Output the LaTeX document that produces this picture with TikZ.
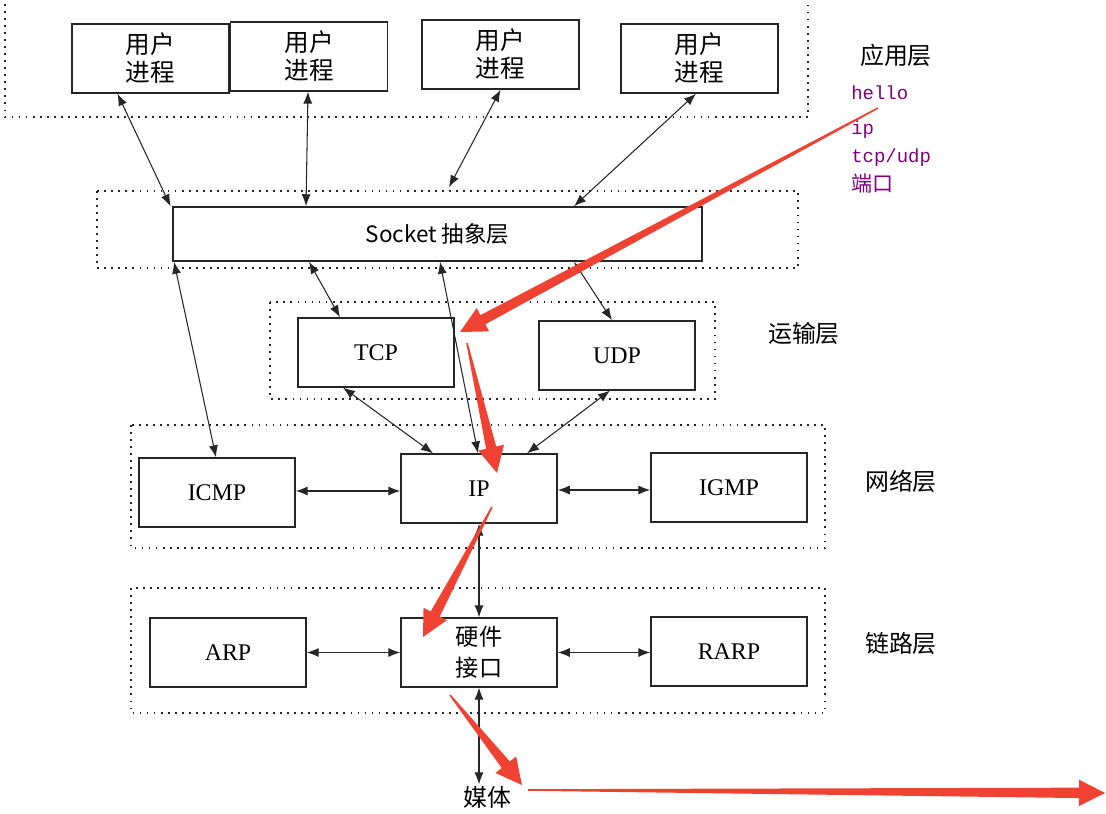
\documentclass[tikz,border=0pt]{standalone}
\usepackage{fontspec}
\setmainfont{Liberation Serif}
\newfontfamily\cjk{Noto Sans CJK SC}
\newfontfamily\notefont{Liberation Mono}
\usepackage{tikz}
\usetikzlibrary{arrows.meta}
\usetikzlibrary{calc}
\usetikzlibrary{positioning}
\definecolor{annred}{RGB}{240,66,50}
\definecolor{notepurple}{RGB}{128,0,128}
\tikzset{
    procbox/.style={
        rectangle,
        draw=black!85,
        line width=1.1pt,
        fill=white,
        minimum width=3.92cm,
        minimum height=1.72cm,
        inner sep=0pt,
        align=center,
        font=\cjk\fontsize{17.5}{20}\selectfont
    },
    protobox/.style={
        rectangle,
        draw=black!85,
        line width=1.1pt,
        fill=white,
        minimum width=3.9cm,
        minimum height=1.72cm,
        inner sep=0pt,
        font=\fontsize{17}{20}\selectfont
    },
    layer/.style={draw=black!85, line width=1.3pt, dash pattern=on 1.3pt off 3.7pt},
    layerlabel/.style={font=\cjk\fontsize{17}{20}\selectfont},
    note/.style={anchor=base west, inner sep=0pt, text=notepurple, font=\notefont\fontsize{13.5}{16}\selectfont},
    link/.style={
        {Latex[length=8.5pt,width=6.5pt]}-{Latex[length=8.5pt,width=6.5pt]},
        line width=0.75pt,
        draw=black!85
    },
    annot/.style={fill=annred}
}
\newcommand{\annarrow}[2]{%
    \coordinate (hb) at ($(#2)!0.65cm!(#1)$);
    \fill[annot] ($(#1)!0.02cm!90:(#2)$) -- ($(hb)!0.13cm!90:(#2)$) -- ($(hb)!0.33cm!90:(#2)$) -- (#2)
        -- ($(hb)!0.33cm!-90:(#2)$) -- ($(hb)!0.13cm!-90:(#2)$) -- ($(#1)!0.02cm!-90:(#2)$) -- cycle;
}

\begin{document}
\begin{tikzpicture}[x=0.025cm, y=-0.025cm]
    \useasboundingbox (0,0) rectangle (1106,814);

    % Layer frames
    \draw[layer] (5,-10) rectangle (808,117);
    \draw[layer] (97,191) rectangle (798,268);
    \draw[layer] (270,302) rectangle (715,399);
    \draw[layer] (131,425) rectangle (825,548);
    \draw[layer] (131,588) rectangle (825,713);

    % Application layer
    \node (proc1) [procbox] at (150.5,58.5) {用户\\进程};
    \node (proc2) [procbox] at (309,56.5) {用户\\进程};
    \node (proc3) [procbox] at (500.5,54.5) {用户\\进程};
    \node (proc4) [procbox] at (699.5,58.5) {用户\\进程};
    \node (applbl) [layerlabel] at (896,55) {应用层};

    % Notes
    \node (note_hello) [note] at (851,100) {hello};
    \node (note_ip) [note] at (851,135) {ip};
    \node (note_tcpudp) [note] at (851,163) {tcp/udp};
    \node (note_port) [note, font=\cjk\fontsize{15}{18}\selectfont] at (851,192) {端口};

    % Socket layer
    \node (socket) [rectangle, draw=black!85, line width=1.1pt, fill=white, minimum width=13.225cm, minimum height=1.35cm,
        font=\cjk\fontsize{16}{19}\selectfont] at (437.5,234) {Socket 抽象层};

    % Transport layer
    \node (tcp) [protobox] at (376,352.4) {TCP};
    \node (udp) [protobox] at (617,355.4) {UDP};
    \node (translbl) [layerlabel] at (804,333) {运输层};

    % Network layer
    \node (icmp) [protobox] at (217,492.5) {ICMP};
    \node (ip) [protobox] at (479,488.5) {IP};
    \node (igmp) [protobox] at (729,487.5) {IGMP};
    \node (netlbl) [layerlabel] at (901,481) {网络层};

    % Link layer
    \node (arp) [protobox] at (228,652.5) {ARP};
    \node (hw) [protobox, align=center, font=\cjk\fontsize{16.5}{22}\selectfont] at (479,652.5) {硬件\\接口};
    \node (rarp) [protobox] at (729,651.5) {RARP};
    \node (linklbl) [layerlabel] at (901,643) {链路层};

    % Medium
    \node (media) [font=\cjk\fontsize{17}{20}\selectfont, inner sep=1pt] at (487,797) {媒体};

    % Connections
    \draw[link] ($(proc1.south)+(-33,0)$) -- ($(socket.north)+(-267,0)$);
    \draw[link] ($(proc2.south)+(-1,0)$) -- ($(socket.north)+(-131.5,0)$);
    \draw[link] (proc3.south) -- ($(socket.north)+(11.5,-19)$);
    \draw[link] ($(proc4.south)+(-3.5,0)$) -- ($(socket.north)+(136.5,0)$);
    \draw[link] ($(socket.south)+(-263.5,0)$) -- ($(icmp.north)+(-1,0)$);
    \draw[link] ($(socket.south)+(-128.5,0)$) -- ($(tcp.north)+(-36,0)$);
    \draw[link] ($(socket.south)+(2.5,0)$) -- ($(ip.north)+(-1,0)$);
    \draw[link] ($(socket.south)+(136.5,0)$) -- ($(udp.north)+(-5,0)$);
    \draw[link] ($(tcp.south)+(-33,0)$) -- ($(ip.north)+(-46,0)$);
    \draw[link] ($(udp.south)+(-7,0)$) -- ($(ip.north)+(48,0)$);
    \draw[link] ($(icmp.east)+(0,-1.5)$) -- ($(icmp.east -| ip.west)+(0,-1.5)$);
    \draw[link] ($(ip.east)+(0,1.5)$) -- ($(ip.east -| igmp.west)+(0,1.5)$);
    \draw[link] (ip.south) -- (hw.north);
    \draw[link] (arp.east) -- (arp.east -| hw.west);
    \draw[link] (hw.east) -- (hw.east -| rarp.west);
    \draw[link] (hw.south) -- (hw.south |- media.north);

    % Annotation arrows
    \coordinate (r1s) at (878,108);
    \coordinate (r1e) at (460,332);
    \coordinate (r2s) at (467,343);
    \coordinate (r2e) at (497,473);
    \coordinate (r3s) at (492,507);
    \coordinate (r3e) at (423,637);
    \coordinate (r4s) at (450,695);
    \coordinate (r4e) at (522,785);
    \coordinate (r5s) at (528,790);
    \coordinate (r5e) at (1105,793);
    \annarrow{r1s}{r1e}
    \annarrow{r2s}{r2e}
    \annarrow{r3s}{r3e}
    \annarrow{r4s}{r4e}
    \annarrow{r5s}{r5e}
\end{tikzpicture}
\end{document}
